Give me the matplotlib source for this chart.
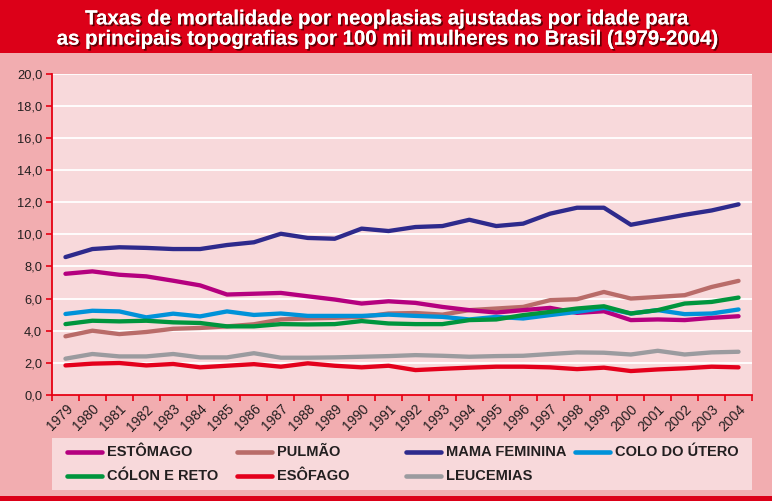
import matplotlib
matplotlib.use("Agg")
import matplotlib.pyplot as plt
import matplotlib.patheffects as pe
from matplotlib.patches import Rectangle
from matplotlib.lines import Line2D

years = [str(y) for y in range(1979, 2005)]

estomago = [7.54, 7.69, 7.48, 7.38, 7.11, 6.82, 6.25, 6.3, 6.35, 6.14, 5.94, 5.69, 5.83, 5.73,
            5.48, 5.28, 5.13, 5.28, 5.42, 5.11, 5.21, 4.66, 4.7, 4.66, 4.8, 4.9]
pulmao = [3.65, 4.0, 3.79, 3.92, 4.12, 4.17, 4.27, 4.4, 4.7, 4.76, 4.8, 4.86, 5.07, 5.1,
          5.0, 5.28, 5.38, 5.48, 5.9, 5.96, 6.41, 6.0, 6.1, 6.21, 6.72, 7.1]
mama = [8.58, 9.08, 9.19, 9.15, 9.08, 9.08, 9.33, 9.5, 10.03, 9.77, 9.72, 10.35, 10.2, 10.45,
        10.51, 10.9, 10.51, 10.66, 11.28, 11.65, 11.65, 10.59, 10.9, 11.21, 11.48, 11.86]
colo_utero = [5.04, 5.24, 5.2, 4.83, 5.06, 4.89, 5.2, 4.98, 5.07, 4.92, 4.92, 4.92, 5.0, 4.92,
              4.86, 4.7, 4.86, 4.76, 4.97, 5.17, 5.42, 5.07, 5.28, 5.03, 5.07, 5.32]
colon_reto = [4.41, 4.62, 4.58, 4.62, 4.52, 4.48, 4.27, 4.27, 4.41, 4.39, 4.41, 4.6, 4.45, 4.41,
              4.41, 4.66, 4.7, 4.97, 5.17, 5.38, 5.52, 5.07, 5.28, 5.69, 5.79, 6.06]
esofago = [1.84, 1.95, 1.99, 1.84, 1.93, 1.72, 1.82, 1.92, 1.76, 1.97, 1.82, 1.72, 1.82, 1.55,
           1.63, 1.7, 1.76, 1.76, 1.72, 1.61, 1.7, 1.49, 1.59, 1.66, 1.76, 1.72]
leucemias = [2.26, 2.55, 2.4, 2.4, 2.55, 2.34, 2.34, 2.6, 2.32, 2.32, 2.34, 2.38, 2.42, 2.48,
             2.44, 2.38, 2.42, 2.44, 2.55, 2.65, 2.63, 2.52, 2.75, 2.52, 2.65, 2.69]

names = ["ESTÔMAGO", "PULMÃO", "MAMA FEMININA", "COLO DO ÚTERO",
         "CÓLON E RETO", "ESÔFAGO", "LEUCEMIAS"]
series = [estomago, pulmao, mama, colo_utero, colon_reto, esofago, leucemias]
colors = ["#b5007f", "#b96c69", "#2e2a8c", "#0092d9", "#00953d", "#e4001c", "#9b9b9f"]
zorders = [4, 3, 5, 4.5, 5.5, 3, 3]

title = ("Taxas de mortalidade por neoplasias ajustadas por idade para\n"
         "as principais topografias por 100 mil mulheres no Brasil (1979-2004)")

W, H = 772, 501
fig = plt.figure(figsize=(W / 100, H / 100), dpi=100, facecolor="#f2adb0")

# bands
fig.patches.append(Rectangle((0, 1 - 53 / H), 1, 53 / H, transform=fig.transFigure,
                             facecolor="#dc0018", edgecolor="none", zorder=0))
fig.patches.append(Rectangle((0, 0), 1, 5 / H, transform=fig.transFigure,
                             facecolor="#dc0018", edgecolor="none", zorder=0))
# legend box
fig.patches.append(Rectangle((52 / W, (H - 490) / H), 700 / W, 52 / H, transform=fig.transFigure,
                             facecolor="#f8d9db", edgecolor="none", zorder=0))

fig.text(0.5, 1 - 29 / H, title, ha="center", va="center", color="white",
         fontsize=14.7, fontweight="bold", family=["Liberation Sans", "DejaVu Sans"],
         linespacing=1.08,
         path_effects=[pe.withSimplePatchShadow(offset=(1.3, -1.3), shadow_rgbFace="#400000", alpha=0.8),
                       pe.Normal()])

ax = fig.add_axes([52 / W, (H - 395) / H, 700 / W, (395 - 73.5) / H])
ax.set_facecolor("#f8d9db")
x = list(range(len(years)))
for vals, c, z in zip(series, colors, zorders):
    ax.plot(x, vals, color=c, lw=3.1, solid_capstyle="round", solid_joinstyle="round", zorder=z)

ax.set_xlim(-0.5, len(years) - 0.5)
ax.set_ylim(0, 20)
yt = [i * 2.0 for i in range(11)]
ax.set_yticks(yt)
ax.set_yticklabels([f"{v:.1f}".replace(".", ",") for v in yt])
ax.set_xticks(x)
ax.set_xticklabels(years, rotation=45, ha="right", rotation_mode="anchor")
ax.set_xticks([i - 0.5 for i in range(len(years) + 1)], minor=True)
ax.tick_params(axis="x", which="major", length=0, pad=5)
ax.tick_params(axis="x", which="minor", length=4, width=1.2, color="#e60012", direction="out")
ax.tick_params(axis="y", length=4, width=1.2, color="#e60012", direction="out", pad=3)
for lab in ax.get_xticklabels():
    lab.set_fontsize(10)
    lab.set_color("#231f20")
    lab.set_family(["Liberation Sans", "DejaVu Sans"])
for lab in ax.get_yticklabels():
    lab.set_fontsize(9.3)
    lab.set_color("#231f20")
    lab.set_family(["Liberation Sans", "DejaVu Sans"])
ax.grid(axis="y", color="white", lw=1.3, zorder=1)
ax.set_axisbelow(True)
for s in ["top", "right"]:
    ax.spines[s].set_visible(False)
for s in ["left", "bottom"]:
    ax.spines[s].set_color("#e60012")
    ax.spines[s].set_linewidth(1.3)
    ax.spines[s].set_zorder(6)

# legend drawn in figure pixel layout
col_x = [67, 237, 406, 575]
row_y = [452, 476]
for i, (n, c) in enumerate(zip(names, colors)):
    r, cidx = divmod(i, 4)
    x0 = col_x[cidx]
    yy = 1 - row_y[r] / H
    fig.add_artist(Line2D([x0 / W, (x0 + 35) / W], [yy, yy], transform=fig.transFigure,
                          color=c, lw=3.3, solid_capstyle="round"))
    fig.text((x0 + 40) / W, yy, n, ha="left", va="center", fontsize=10.5, fontweight="bold",
             color="#231f20", family=["Liberation Sans", "DejaVu Sans"])

fig.savefig("out.png", dpi=100, facecolor=fig.get_facecolor())
